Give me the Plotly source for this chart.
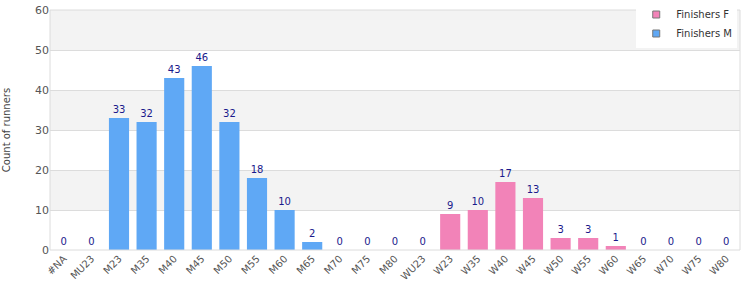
import plotly.graph_objects as go

categories = ["#NA", "MU23", "M23", "M35", "M40", "M45", "M50", "M55", "M60", "M65", "M70", "M75", "M80",
              "WU23", "W23", "W35", "W40", "W45", "W50", "W55", "W60", "W65", "W70", "W75", "W80"]
male_values = [0, 0, 33, 32, 43, 46, 32, 18, 10, 2, 0, 0, 0,
               None, None, None, None, None, None, None, None, None, None, None, None]
female_values = [None] * 13 + [0, 9, 10, 17, 13, 3, 3, 1, 0, 0, 0, 0]
y_ticks = [0, 10, 20, 30, 40, 50, 60]

BLUE = "#5fa8f5"
PINK = "#f283b8"
LABEL = "#1a1a8c"
FONT = "DejaVu Sans"

fig = go.Figure()
for vals, col in ((male_values, BLUE), (female_values, PINK)):
    fig.add_trace(go.Bar(
        x=categories, y=vals, marker=dict(color=col, line=dict(width=0)),
        text=[("" if v is None else str(v)) for v in vals], textposition="outside",
        textfont=dict(color=LABEL, size=10, family=FONT), cliponaxis=False,
        showlegend=False, hoverinfo="x+y"))

for name, col in (("Finishers F", PINK), ("Finishers M", BLUE)):
    fig.add_trace(go.Scatter(x=[None], y=[None], mode="markers", name=name,
                             marker=dict(symbol="square", size=7, color=col,
                                         line=dict(color="#777", width=1))))

shapes = []
for lo in (10, 30, 50):
    shapes.append(dict(type="rect", xref="paper", yref="y", x0=0, x1=1, y0=lo, y1=lo + 10,
                       fillcolor="#f3f3f3", line=dict(width=0), layer="below"))
shapes.append(dict(type="rect", xref="paper", yref="paper", x0=0, x1=1, y0=0, y1=1,
                   fillcolor="rgba(0,0,0,0)", line=dict(color="#dcdcdc", width=1), layer="above"))

fig.update_layout(
    width=750, height=300, margin=dict(l=50, r=10, t=10, b=50, autoexpand=False),
    paper_bgcolor="white", plot_bgcolor="white",
    barmode="overlay", bargap=0.27,
    font=dict(family=FONT, size=10, color="#444"),
    shapes=shapes,
    xaxis=dict(type="category", categoryorder="array", categoryarray=categories,
               tickangle=-45, tickfont=dict(size=10, color="#555"), showgrid=False,
               showline=False, ticks="", automargin=False),
    yaxis=dict(range=[0, 60], tickvals=y_ticks, showgrid=True, gridcolor="#dcdcdc",
               zeroline=False, tickfont=dict(size=11, color="#555"), automargin=False,
               title=dict(text="Count of runners", font=dict(size=10, color="#444"), standoff=22)),
    legend=dict(x=0.996, xanchor="right", y=1.02, yanchor="top", yref="container",
                bgcolor="white", font=dict(size=10, color="#333"),
                itemsizing="trace", tracegroupgap=0, itemwidth=30),
)

fig.write_html("out.html")
